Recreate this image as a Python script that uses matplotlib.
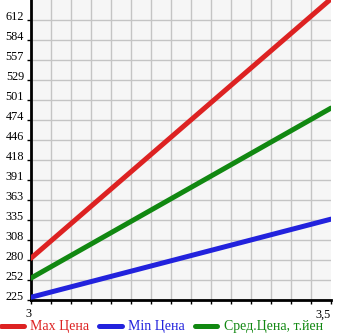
import matplotlib.pyplot as plt
import numpy as np

# data
x_vals = [3.0, 3.5]
max_price = [282.5, 641.0]
min_price = [228.5, 336.5]
avg_price = [255.0, 490.0]
series_labels = ['Max Цена', 'Min Цена', 'Сред.Цена, т.йен']
series_colors = ['#dd2222', '#2222dd', '#118811']

y_tick_labels = ['225', '252', '280', '308', '335', '363', '391', '418',
                 '446', '474', '501', '529', '557', '584', '612']
x_tick_labels = ['3', '3,5']

y_min, y_step = 224.7, 27.65

plt.rcParams['font.family'] = ['Liberation Serif', 'DejaVu Serif']

fig = plt.figure(figsize=(3.45, 3.35), dpi=100)
ax = fig.add_axes([31 / 345, 35 / 335, 300 / 345, 300 / 335])
ax.set_facecolor('#f6f6f6')

for vals, label, color in zip([max_price, min_price, avg_price], series_labels, series_colors):
    ax.plot(x_vals, vals, color=color, lw=3.6, label=label, solid_capstyle='round', zorder=3)

y_ticks = [y_min + i * y_step for i in range(len(y_tick_labels))]
ax.set_ylim(y_min, y_min + 15 * y_step)
ax.set_xlim(3.0, 3.5)
ax.set_yticks(y_ticks)
ax.set_yticklabels(y_tick_labels)
ax.set_xticks([3.0, 3.5])
ax.set_xticklabels(x_tick_labels)
ax.set_xticks(np.linspace(3.0, 3.5, 16), minor=True)
ax.grid(True, which='major', axis='y', color='#c4c4c4', lw=1)
ax.grid(True, which='minor', axis='x', color='#c4c4c4', lw=1)
ax.tick_params(axis='both', which='both', labelsize=8.8, length=3, width=1, color='black', pad=2)
ax.tick_params(axis='x', which='major', length=3, pad=3)

# labels sit just above their ticks on y, right-aligned on x
for lbl in ax.get_yticklabels():
    lbl.set_va('baseline')
for lbl in ax.get_xticklabels():
    lbl.set_ha('right')

for side in ['top', 'right']:
    ax.spines[side].set_visible(False)
ax.spines['left'].set_linewidth(2)
ax.spines['bottom'].set_linewidth(2)

leg = fig.legend(loc='lower left', bbox_to_anchor=(-0.012, -0.012), ncol=3, frameon=False,
                 fontsize=10, handlelength=1.6, handletextpad=0.45, columnspacing=0.75,
                 labelcolor='linecolor', borderaxespad=0)

fig.savefig('out.png', dpi=100)
